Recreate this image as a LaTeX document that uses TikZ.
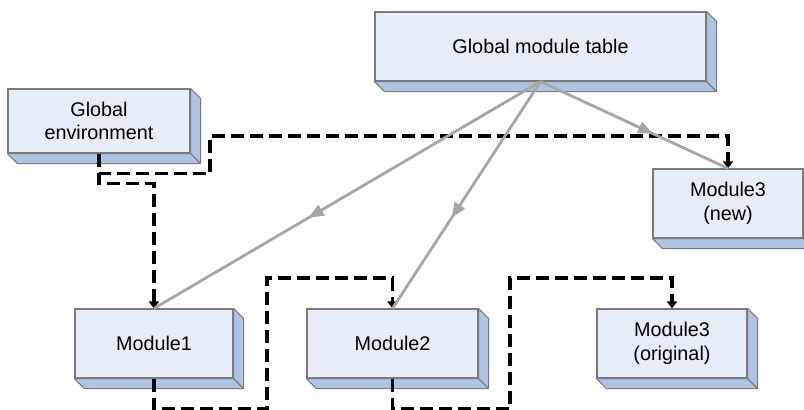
\documentclass[tikz,border=0pt]{standalone}
\usepackage{fontspec}
\setmainfont{Liberation Sans}
\usetikzlibrary{arrows.meta,decorations.markings,calc}
\definecolor{facecol}{HTML}{E6ECF8}
\definecolor{sidecol}{HTML}{AFC3E4}
\definecolor{edgecol}{HTML}{7A7A7A}
\definecolor{refcol}{HTML}{A6A6A6}
\begin{document}
\begin{tikzpicture}[x=1pt,y=-1pt,
  box/.style={draw=edgecol, line width=1.1pt, fill=facecol, inner sep=0pt, align=center,
    font=\fontsize{19.8}{23.5}\selectfont},
  side/.style={draw=edgecol, line width=1.1pt, fill=sidecol, line join=round},
  dep/.style={draw=black, line width=3.4pt, dash pattern=on 13pt off 6pt,
    -{Triangle[length=7pt,width=10pt]}},
  refline/.style={color=refcol, line width=2.8pt, postaction={decorate},
    decoration={markings, mark=at position 0.6 with {\arrow{Triangle[length=15pt,width=12pt]}}}}]
\useasboundingbox (0,0) rectangle (804,410);
\clip (0,0) rectangle (804,410);

% front faces
\node[box, minimum width=331pt, minimum height=69pt] (gmt)  at (540.5,46.5) {Global module table};
\node[box, minimum width=182pt, minimum height=64pt] (genv) at (99,121)     {Global\\environment};
\node[box, minimum width=150pt, minimum height=69pt] (m3n)  at (728,203.5)  {Module3\\(new)};
\node[box, minimum width=158pt, minimum height=69pt] (m1)   at (154,343.5)  {Module1};
\node[box, minimum width=171pt, minimum height=69pt] (m2)   at (392.5,343.5){Module2};
\node[box, minimum width=150pt, minimum height=69pt] (m3o)  at (672,343.5)  {Module3\\(original)};

% extrusions
\foreach \n in {gmt,genv,m3n,m1,m2,m3o}{
  \path[side] (\n.south west) -- ++(10,10) -- ($(\n.south east)+(10,10)$)
    -- ($(\n.north east)+(10,10)$) -- (\n.north east) -- (\n.south east) -- cycle;
  \draw[edgecol, line width=1.1pt] (\n.south east) -- ++(10,10);
}

% dashed connectors
\draw[dep] (genv.south) -- ++(0,30) -| (m1.north);
\draw[dep] (genv.south) -- ++(0,20) -| (210,136) -| (m3n.north);
\draw[dep] (m1.south) -- ++(0,30) -| (267,278) -| (m2.north);
\draw[dep] (m2.south) -- ++(0,30) -| (510,278) -| (m3o.north);

% gray reference lines
\draw[refline] (gmt.south) -- (m1.north);
\draw[refline] (gmt.south) -- (m2.north);
\draw[refline] (gmt.south) -- (m3n.north);
\end{tikzpicture}
\end{document}
